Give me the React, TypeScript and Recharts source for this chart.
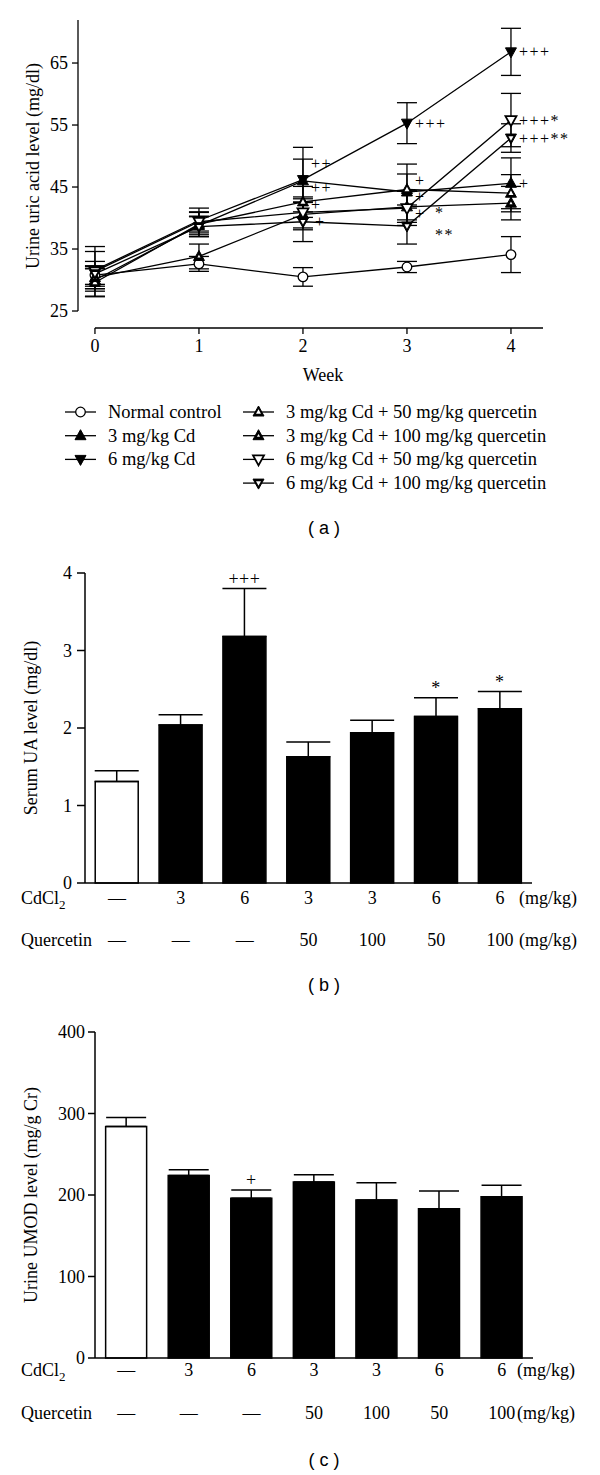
import React from "react";
import {
  Bar,
  BarChart,
  Cell,
  ErrorBar,
  LabelList,
  Line,
  LineChart,
  ReferenceLine,
  XAxis,
  YAxis,
} from "recharts";

const SERIF = '"Liberation Serif", "Times New Roman", serif';
const SANS = '"Liberation Sans", Arial, sans-serif';

// (a) urine uric acid (mg/dl) by week, mean and SE
const weeks = [0, 1, 2, 3, 4];
const normalUA = [30.8, 32.6, 30.5, 32.1, 34.1];
const normalUAErr = [1.5, 1.2, 1.5, 0.9, 2.9];
const cd3UA = [30.0, 38.8, 46.0, 44.2, 45.6];
const cd3UAErr = [1.8, 1.5, 3.5, 4.5, 4.1];
const cd6UA = [31.6, 39.6, 46.2, 55.3, 66.8];
const cd6UAErr = [3.0, 2.0, 5.2, 3.3, 3.8];
const cd3q50UA = [29.6, 39.0, 42.6, 44.6, 44.0];
const cd3q50UAErr = [2.3, 2.0, 2.5, 2.5, 3.0];
const cd3q100UA = [30.4, 33.8, 40.6, 41.8, 42.4];
const cd3q100UAErr = [1.8, 2.0, 2.5, 2.5, 2.7];
const cd6q50UA = [31.4, 39.4, 40.9, 41.6, 55.8];
const cd6q50UAErr = [4.0, 1.5, 2.5, 2.8, 4.3];
const cd6q100UA = [31.0, 38.6, 39.4, 38.7, 52.9];
const cd6q100UAErr = [2.0, 1.6, 3.2, 2.9, 2.3];

const normalSig = ["", "", "", "", ""];
const cd3Sig = ["", "", "++", "+", "+"];
const cd6Sig = ["", "", "++", "+++", "+++"];
const cd3q50Sig = ["", "", "+", "+", ""];
const cd3q100Sig = ["", "", "+", "+", ""];
const cd6q50Sig = ["", "", "", "*", "+++*"];
const cd6q100Sig = ["", "", "", "**", "+++**"];

const uaTicks = [25, 35, 45, 55, 65];

// (b) serum UA (mg/dl) and (c) urine UMOD (mg/g Cr)
const groupIds = ["g1", "g2", "g3", "g4", "g5", "g6", "g7"];
const cdLabels = ["—", "3", "6", "3", "3", "6", "6"];
const qLabels = ["—", "—", "—", "50", "100", "50", "100"];
const serumUA = [1.31, 2.04, 3.18, 1.63, 1.94, 2.15, 2.25];
const serumUAErr = [0.14, 0.13, 0.62, 0.19, 0.16, 0.24, 0.22];
const serumUASig = ["", "", "+++", "", "", "*", "*"];
const serumTicks = [0, 1, 2, 3, 4];
const umod = [284, 224, 196, 216, 194, 183, 198];
const umodErr = [11, 7, 10, 9, 21, 22, 14];
const umodSig = ["", "", "+", "", "", "", ""];
const umodTicks = [0, 100, 200, 300, 400];

type Shape = "circle" | "upFilled" | "downFilled" | "upWhite" | "upDot" | "downOpen" | "downWhite";

const seriesA = [
  { key: "normal", name: "Normal control", mean: normalUA, err: normalUAErr, sig: normalSig, shape: "circle" as Shape },
  { key: "cd3", name: "3 mg/kg Cd", mean: cd3UA, err: cd3UAErr, sig: cd3Sig, shape: "upFilled" as Shape },
  { key: "cd6", name: "6 mg/kg Cd", mean: cd6UA, err: cd6UAErr, sig: cd6Sig, shape: "downFilled" as Shape },
  { key: "cd3q50", name: "3 mg/kg Cd + 50 mg/kg quercetin", mean: cd3q50UA, err: cd3q50UAErr, sig: cd3q50Sig, shape: "upWhite" as Shape },
  { key: "cd3q100", name: "3 mg/kg Cd + 100 mg/kg quercetin", mean: cd3q100UA, err: cd3q100UAErr, sig: cd3q100Sig, shape: "upDot" as Shape },
  { key: "cd6q50", name: "6 mg/kg Cd + 50 mg/kg quercetin", mean: cd6q50UA, err: cd6q50UAErr, sig: cd6q50Sig, shape: "downOpen" as Shape },
  { key: "cd6q100", name: "6 mg/kg Cd + 100 mg/kg quercetin", mean: cd6q100UA, err: cd6q100UAErr, sig: cd6q100Sig, shape: "downWhite" as Shape },
];

const lineData = weeks.map((week, i) => {
  const row: Record<string, number | string> = { week };
  seriesA.forEach((s) => {
    row[s.key] = s.mean[i];
    row[s.key + "Err"] = s.err[i];
    row[s.key + "Sig"] = s.sig[i];
  });
  return row;
});

const serumData = groupIds.map((id, i) => ({
  id,
  value: serumUA[i],
  err: [0, serumUAErr[i]],
  sig: serumUASig[i],
}));

const umodData = groupIds.map((id, i) => ({
  id,
  value: umod[i],
  err: [0, umodErr[i]],
  sig: umodSig[i],
}));

// small nudges so the significance marks don't sit on each other
const sigNudge: Record<string, [number, number]> = {
  "cd6-2": [0, -16],
  "cd3-2": [0, 7],
  "cd3q50-2": [0, 3],
  "cd3q100-2": [4, 7],
  "cd3q50-3": [0, -9],
  "cd3-3": [0, 5],
  "cd3q100-3": [0, 7],
  "cd6q50-3": [20, 4],
  "cd6q100-3": [20, 8],
};

function marker(shape: Shape, cx: number, cy: number, key?: string | number) {
  const h = 5.5;
  const up = (k: number) => `${cx},${cy - 6 * k} ${cx - h * k},${cy + 4 * k} ${cx + h * k},${cy + 4 * k}`;
  const down = (k: number) => `${cx},${cy + 6 * k} ${cx - h * k},${cy - 4 * k} ${cx + h * k},${cy - 4 * k}`;
  switch (shape) {
    case "circle":
      return <circle key={key} cx={cx} cy={cy} r={4.8} fill="#fff" stroke="#000" strokeWidth={1.3} />;
    case "upFilled":
      return <polygon key={key} points={up(1)} fill="#000" stroke="#000" strokeWidth={1} />;
    case "downFilled":
      return <polygon key={key} points={down(1)} fill="#000" stroke="#000" strokeWidth={1} />;
    case "upWhite":
      return (
        <g key={key}>
          <polygon points={up(1)} fill="#000" stroke="#000" strokeWidth={1} />
          <polygon points={up(0.45)} fill="#fff" />
        </g>
      );
    case "upDot":
      return (
        <g key={key}>
          <polygon points={up(1)} fill="#000" stroke="#000" strokeWidth={1} />
          <polygon points={up(0.28)} fill="#fff" />
        </g>
      );
    case "downOpen":
      return <polygon key={key} points={down(1)} fill="#fff" stroke="#000" strokeWidth={1.8} />;
    default:
      return (
        <g key={key}>
          <polygon points={down(1)} fill="#000" stroke="#000" strokeWidth={1} />
          <polygon points={down(0.45)} fill="#fff" />
        </g>
      );
  }
}

const textStyle = { fontFamily: SERIF, fontSize: 18, fill: "#000" };
const sigStyle = { fontFamily: SERIF, fontSize: 16, fill: "#000" };

function LegendA() {
  const left = seriesA.slice(0, 3);
  const right = seriesA.slice(3);
  const rowY = (i: number) => 412 + i * 23.7;
  const item = (s: (typeof seriesA)[number], i: number, x0: number) => (
    <g key={s.key}>
      <line x1={x0} x2={x0 + 31} y1={rowY(i)} y2={rowY(i)} stroke="#000" strokeWidth={1.3} />
      {marker(s.shape, x0 + 15.5, rowY(i))}
      <text x={x0 + 43} y={rowY(i)} dominantBaseline="central" {...textStyle} fontSize={18.5}>
        {s.name}
      </text>
    </g>
  );
  return (
    <svg width={600} height={110} viewBox="0 390 600 110" style={{ position: "absolute", left: 0, top: 390 }}>
      {left.map((s, i) => item(s, i, 65))}
      {right.map((s, i) => item(s, i, 243))}
    </svg>
  );
}

function ChartA() {
  const yMin = 22.26;
  const yMax = 71.94;
  const xMin = -0.163;
  const xMax = 4.308;
  return (
    <div style={{ position: "absolute", left: 0, top: 0 }}>
      <LineChart width={600} height={400} data={lineData} margin={{ top: 20, right: 57, left: 8, bottom: 22 }}>
        <XAxis
          type="number"
          dataKey="week"
          domain={[xMin, xMax]}
          ticks={weeks}
          allowDataOverflow
          axisLine={false}
          tickLine={{ stroke: "#000", strokeWidth: 1.3 }}
          tickSize={6}
          tickMargin={5}
          tick={textStyle}
          height={50}
          label={{
            content: () => (
              <text x={323} y={375} textAnchor="middle" dominantBaseline="central" {...textStyle}>
                Week
              </text>
            ),
          }}
        />
        <YAxis
          type="number"
          domain={[yMin, yMax]}
          ticks={uaTicks}
          allowDataOverflow
          axisLine={false}
          tickLine={{ stroke: "#000", strokeWidth: 1.3 }}
          tickSize={6}
          tickMargin={4}
          tick={textStyle}
          width={70}
          label={{
            content: () => (
              <text
                x={33}
                y={166}
                transform="rotate(-90 33 166)"
                textAnchor="middle"
                dominantBaseline="central"
                {...textStyle}
              >
                Urine uric acid level (mg/dl)
              </text>
            ),
          }}
        />
        <ReferenceLine
          segment={[{ x: xMin, y: 25 }, { x: xMin, y: yMax }]}
          stroke="#000"
          strokeWidth={1.3}
          ifOverflow="visible"
        />
        <ReferenceLine
          segment={[{ x: 0, y: yMin }, { x: xMax, y: yMin }]}
          stroke="#000"
          strokeWidth={1.3}
          ifOverflow="visible"
        />
        {seriesA.map((s) => (
          <Line
            key={s.key}
            type="linear"
            dataKey={s.key}
            stroke="#000"
            strokeWidth={1.3}
            isAnimationActive={false}
            dot={(p: any) => marker(s.shape, p.cx, p.cy, `${s.key}-${p.index}`)}
            activeDot={false}
          >
            <ErrorBar dataKey={s.key + "Err"} width={10} stroke="#000" strokeWidth={1.3} direction="y" />
            <LabelList
              dataKey={s.key + "Sig"}
              content={(p: any) => {
                if (!p.value) return null;
                const n = sigNudge[`${s.key}-${p.index}`] || [0, 0];
                return (
                  <text
                    x={p.x + 8 + n[0]}
                    y={p.y + n[1]}
                    dominantBaseline="central"
                    letterSpacing={1.5}
                    {...sigStyle}
                  >
                    {p.value}
                  </text>
                );
              }}
            />
          </Line>
        ))}
      </LineChart>
      <LegendA />
    </div>
  );
}

function doseTick(row1: number, row2: number) {
  return (p: any) => (
    <g>
      <text x={p.x} y={p.y + row1} textAnchor="middle" dominantBaseline="central" {...textStyle}>
        {cdLabels[p.index]}
      </text>
      <text x={p.x} y={p.y + row2} textAnchor="middle" dominantBaseline="central" {...textStyle}>
        {qLabels[p.index]}
      </text>
    </g>
  );
}

function sigLabel(means: number[], errs: number[]) {
  return (p: any) => {
    if (!p.value) return null;
    const vb = p.viewBox || p;
    const i = p.index;
    const perUnit = vb.height / means[i];
    const errTop = vb.y - errs[i] * perUnit;
    return (
      <text x={vb.x + vb.width / 2} y={errTop - 4} textAnchor="middle" letterSpacing={0.5} {...textStyle}>
        {p.value}
      </text>
    );
  };
}

function DoseHeadings({ top, row1, row2, unitX }: { top: number; row1: number; row2: number; unitX: number }) {
  const base: React.CSSProperties = {
    position: "absolute",
    fontFamily: SERIF,
    fontSize: 18,
    lineHeight: "22px",
    whiteSpace: "nowrap",
    color: "#000",
  };
  return (
    <>
      <div style={{ ...base, left: 21, top: top + row1 - 11 }}>
        CdCl<span style={{ fontSize: 13, position: "relative", top: 5 }}>2</span>
      </div>
      <div style={{ ...base, left: 21, top: top + row2 - 11 }}>Quercetin</div>
      <div style={{ ...base, left: unitX, top: top + row1 - 11 }}>(mg/kg)</div>
      <div style={{ ...base, left: unitX, top: top + row2 - 11 }}>(mg/kg)</div>
    </>
  );
}

function PanelTag({ text, y }: { text: string; y: number }) {
  return (
    <div
      style={{
        position: "absolute",
        left: 274,
        width: 100,
        top: y - 11,
        textAlign: "center",
        fontFamily: SANS,
        fontSize: 18,
        lineHeight: "22px",
        color: "#000",
        whiteSpace: "pre",
      }}
    >
      {text}
    </div>
  );
}

function ChartB() {
  return (
    <div style={{ position: "absolute", left: 0, top: 540 }}>
      <BarChart
        width={600}
        height={430}
        data={serumData}
        margin={{ top: 33, right: 68, left: 8, bottom: 7 }}
        barCategoryGap="16%"
      >
        <XAxis
          dataKey="id"
          axisLine={{ stroke: "#000", strokeWidth: 1.5 }}
          tickLine={false}
          tickSize={0}
          tickMargin={0}
          tick={doseTick(15, 57)}
          height={80}
          interval={0}
        />
        <YAxis
          domain={[0, 4]}
          ticks={serumTicks}
          axisLine={{ stroke: "#000", strokeWidth: 1.5 }}
          tickLine={{ stroke: "#000", strokeWidth: 1.5 }}
          tickSize={8}
          tickMargin={5}
          tick={textStyle}
          width={77}
          label={{
            content: () => (
              <text x={31} y={188} transform="rotate(-90 31 188)" textAnchor="middle" dominantBaseline="central" {...textStyle}>
                Serum UA level (mg/dl)
              </text>
            ),
          }}
        />
        <Bar dataKey="value" stroke="#000" strokeWidth={1.5} isAnimationActive={false}>
          {serumData.map((d, i) => (
            <Cell key={d.id} fill={i === 0 ? "#fff" : "#000"} />
          ))}
          <ErrorBar dataKey="err" width={22} stroke="#000" strokeWidth={1.5} direction="y" />
          <LabelList dataKey="sig" content={sigLabel(serumUA, serumUAErr)} />
        </Bar>
      </BarChart>
    </div>
  );
}

function ChartC() {
  return (
    <div style={{ position: "absolute", left: 0, top: 1000 }}>
      <BarChart
        width={600}
        height={440}
        data={umodData}
        margin={{ top: 32, right: 67, left: 8, bottom: 2 }}
        barCategoryGap="17%"
      >
        <XAxis
          dataKey="id"
          axisLine={{ stroke: "#000", strokeWidth: 1.5 }}
          tickLine={false}
          tickSize={0}
          tickMargin={0}
          tick={doseTick(12, 55)}
          height={80}
          interval={0}
        />
        <YAxis
          domain={[0, 400]}
          ticks={umodTicks}
          axisLine={{ stroke: "#000", strokeWidth: 1.5 }}
          tickLine={{ stroke: "#000", strokeWidth: 1.5 }}
          tickSize={7}
          tickMargin={3}
          tick={textStyle}
          width={87}
          label={{
            content: () => (
              <text x={31} y={195} transform="rotate(-90 31 195)" textAnchor="middle" dominantBaseline="central" {...textStyle}>
                Urine UMOD level (mg/g Cr)
              </text>
            ),
          }}
        />
        <Bar dataKey="value" stroke="#000" strokeWidth={1.5} isAnimationActive={false}>
          {umodData.map((d, i) => (
            <Cell key={d.id} fill={i === 0 ? "#fff" : "#000"} />
          ))}
          <ErrorBar dataKey="err" width={20} stroke="#000" strokeWidth={1.5} direction="y" />
          <LabelList dataKey="sig" content={sigLabel(umod, umodErr)} />
        </Bar>
      </BarChart>
    </div>
  );
}

export default function App() {
  return (
    <div style={{ position: "absolute", left: 0, top: 0, width: 600, height: 1475, background: "#fff" }}>
      <ChartA />
      <PanelTag text="( a )" y={528} />
      <ChartB />
      <DoseHeadings top={540} row1={358} row2={400} unitX={519} />
      <PanelTag text="( b )" y={985} />
      <ChartC />
      <DoseHeadings top={1000} row1={370} row2={413} unitX={517} />
      <PanelTag text="( c )" y={1460} />
    </div>
  );
}
